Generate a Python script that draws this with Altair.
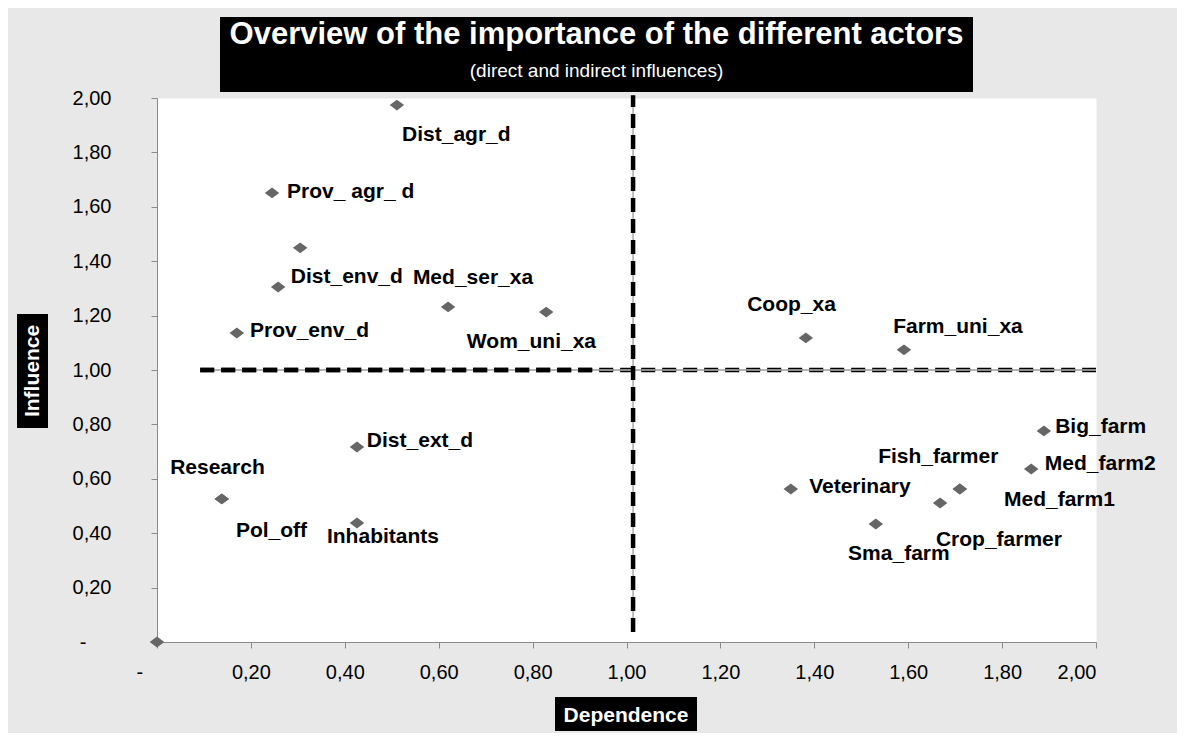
import altair as alt
import pandas as pd

# ---------------- data ----------------
actors = ["Dist_agr_d", "Prov_ agr_ d", "Dist_env_d", "Med_ser_xa", "Wom_uni_xa",
          "Prov_env_d", "Coop_xa", "Farm_uni_xa", "Dist_ext_d", "Research",
          "Pol_off", "Inhabitants", "Big_farm", "Med_farm2", "Veterinary",
          "Fish_farmer", "Med_farm1", "Crop_farmer", "Sma_farm"]
dependence = [0.511, 0.245, 0.258, 0.620, 0.829,
              0.170, 1.382, 1.591, 0.426, 0.138,
              0.138, 0.426, 1.889, 1.862, 1.350,
              1.668, 1.710, 1.710, 1.531]
influence = [1.974, 1.651, 1.305, 1.232, 1.213,
             1.136, 1.118, 1.074, 0.717, 0.526,
             0.526, 0.4375, 0.776, 0.636, 0.5625,
             0.511, 0.5625, 0.5625, 0.434]
# label anchor positions (left edge of the label text, data units)
label_x = [0.522, 0.277, 0.285, 0.545, 0.660,
           0.198, 1.257, 1.568, 0.447, 0.028,
           0.168, 0.362, 1.913, 1.891, 1.389,
           1.536, 1.804, 1.659, 1.472]
label_y = [1.864, 1.654, 1.342, 1.338, 1.103,
           1.143, 1.239, 1.158, 0.739, 0.640,
           0.408, 0.386, 0.790, 0.654, 0.570,
           0.680, 0.522, 0.375, 0.324]
# unlabeled points
extra_dependence = [0.305, 0.0]
extra_influence = [1.449, 0.0]

# reference lines
h_line = {"x": 0.092, "x2": 2.0, "y": 1.0}
h_line_dark_end = 0.93
v_line = {"x": 1.014, "y": 0.037, "y2": 2.01}

x_ticks = [0, 0.2, 0.4, 0.6, 0.8, 1.0, 1.2, 1.4, 1.6, 1.8, 2.0]
y_ticks = [0, 0.2, 0.4, 0.6, 0.8, 1.0, 1.2, 1.4, 1.6, 1.8, 2.0]

title_text = "Overview of the importance of the different actors"
subtitle_text = "(direct and indirect influences)"
x_title = "Dependence"
y_title = "Influence"

FONT = "Liberation Sans"

# ---------------- tables ----------------
points = pd.DataFrame({
    "dep": dependence + extra_dependence,
    "inf": influence + extra_influence,
})
labels = pd.DataFrame({"name": actors, "lx": label_x, "ly": label_y})
h_df = pd.DataFrame([h_line])
h_dark_df = pd.DataFrame([{"x": h_line["x"], "x2": h_line_dark_end, "y": h_line["y"]}])
v_df = pd.DataFrame([v_line])
one = pd.DataFrame({"a": [0]})

x_scale = alt.Scale(domain=[0, 2], nice=False, zero=False)
y_scale = alt.Scale(domain=[0, 2], nice=False, zero=False)

lab_expr = "datum.value == 0 ? '-' : replace(format(datum.value, '.2f'), '.', ',')"

x_axis = alt.Axis(values=x_ticks, labelExpr=lab_expr, title=None, grid=False,
                  domainColor="#8a8a8a", tickColor="#8a8a8a", tickSize=6,
                  labelFontSize=20, labelFont=FONT, labelColor="black",
                  labelPadding=14,
                  labelOffset={"condition": {"test": "datum.value == 0", "value": -21}, "value": 0})
y_axis = alt.Axis(values=y_ticks, labelExpr=lab_expr, title=None, grid=False,
                  domainColor="#8a8a8a", tickColor="#8a8a8a", tickSize=6,
                  labelFontSize=20, labelFont=FONT, labelColor="black",
                  labelPadding={"condition": {"test": "datum.value == 0", "value": 65}, "value": 40})

pts = alt.Chart(points).mark_point(shape="M-1,0L0,-0.75L1,0L0,0.75Z", filled=True, size=210,
                                   color="#666666", opacity=1).encode(
    x=alt.X("dep:Q", scale=x_scale, axis=x_axis),
    y=alt.Y("inf:Q", scale=y_scale, axis=y_axis),
)

txt = alt.Chart(labels).mark_text(font=FONT, fontSize=21, fontWeight="bold",
                                  color="black", align="left",
                                  baseline="middle").encode(
    x=alt.X("lx:Q", scale=x_scale),
    y=alt.Y("ly:Q", scale=y_scale),
    text="name:N",
)

def hrule(df, color, width, dash=None):
    kw = dict(color=color, strokeWidth=width)
    if dash:
        kw["strokeDash"] = dash
    return alt.Chart(df).mark_rule(**kw).encode(
        x=alt.X("x:Q", scale=x_scale), x2="x2:Q", y=alt.Y("y:Q", scale=y_scale))

def vrule(df, color, width, dash=None):
    kw = dict(color=color, strokeWidth=width)
    if dash:
        kw["strokeDash"] = dash
    return alt.Chart(df).mark_rule(**kw).encode(
        x=alt.X("x:Q", scale=x_scale), y=alt.Y("y:Q", scale=y_scale), y2="y2:Q")

DASH = [14, 7]
lines = [
    hrule(h_df, "#9a9a9a", 1.3),
    vrule(v_df, "#9a9a9a", 1.3),
    hrule(h_df, "black", 4.5, DASH),
    hrule(h_df, "#8c8c8c", 2, DASH),
    hrule(h_dark_df, "black", 4.5, DASH),
    vrule(v_df, "black", 4.5, DASH),
]

# decorations (title box, axis title boxes)
def box(x1, x2, y1, y2):
    return alt.Chart(one).mark_rect(color="black").encode(
        x=alt.value(x1), x2=alt.value(x2), y=alt.value(y1), y2=alt.value(y2))

def label(text, x, y, size, weight="bold", angle=0, baseline="alphabetic"):
    kw = dict(text=text, font=FONT, fontSize=size, fontWeight=weight,
              color="white", align="center", baseline=baseline)
    if angle:
        kw["angle"] = angle
    return alt.Chart(one).mark_text(**kw).encode(x=alt.value(x), y=alt.value(y))

deco = [
    box(63, 816, -81, -6),
    label(title_text, 439.5, -54, 31),
    label(subtitle_text, 439.5, -21, 19, weight="normal"),
    box(398, 540, 599, 633),
    label(x_title, 469, 624, 21),
    box(-140, -109, 216, 330),
    label(y_title, -124.5, 273, 21, angle=270, baseline="middle"),
]

chart = alt.layer(*lines, pts, txt, *deco).properties(
    width=939, height=544,
    autosize=alt.AutoSizeParams(type="none"),
    padding={"left": 149, "top": 90, "right": 81, "bottom": 91},
    background="#e8e8e8",
).configure_view(fill="white", stroke="transparent")

chart.save("out.html", embed_options={"renderer": "svg", "actions": False})
